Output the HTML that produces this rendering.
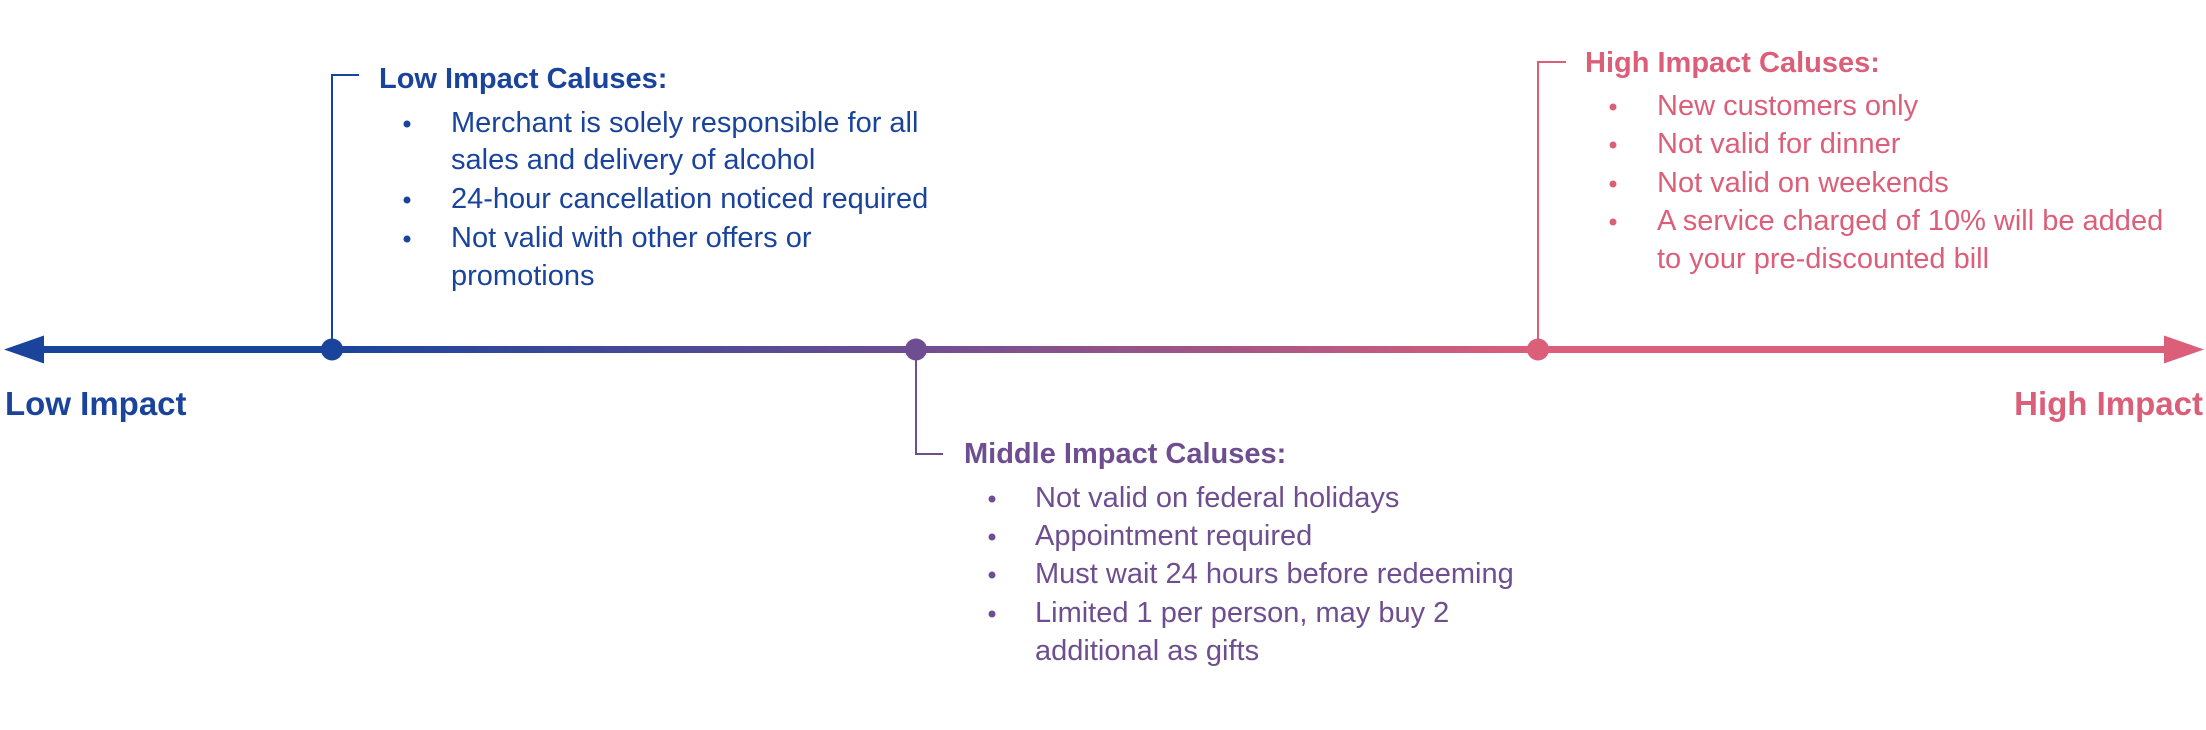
<!DOCTYPE html>
<html><head><meta charset="utf-8"><style>
html,body{margin:0;padding:0;background:#fff;}
svg{display:block;}
text{font-family:"Liberation Sans",sans-serif;}
</style></head><body>
<svg width="2206" height="730" viewBox="0 0 2206 730" xmlns="http://www.w3.org/2000/svg">
<defs>
<linearGradient id="g" x1="0" y1="0" x2="2206" y2="0" gradientUnits="userSpaceOnUse">
<stop offset="0" stop-color="#1a449c"/>
<stop offset="0.15" stop-color="#1a449c"/>
<stop offset="0.415" stop-color="#6e4e90"/>
<stop offset="0.7" stop-color="#dc5f7a"/>
<stop offset="1" stop-color="#dc5f7a"/>
</linearGradient>
</defs>
<rect x="40" y="346" width="2130" height="7" fill="url(#g)"/>
<polygon points="4,349.5 44,335.5 44,363.5" fill="#1a449c"/>
<polygon points="2204,349.5 2164,335.5 2164,363.5" fill="#dc5f7a"/>
<circle cx="332" cy="349.5" r="11" fill="#1a449c"/>
<circle cx="916" cy="349.5" r="11" fill="#6e4e90"/>
<circle cx="1538" cy="349.5" r="11" fill="#dc5f7a"/>
<polyline points="359,75 332,75 332,349" fill="none" stroke="#1a449c" stroke-width="2"/>
<polyline points="916,349 916,454 943,454" fill="none" stroke="#6e4e90" stroke-width="2"/>
<polyline points="1566,62 1538,62 1538,349" fill="none" stroke="#dc5f7a" stroke-width="2"/>
<g fill="#1a449c">
<text x="379" y="88" font-size="29" font-weight="bold">Low Impact Caluses:</text>
<g font-size="29">
<circle cx="407" cy="124" r="3.5"/><circle cx="407" cy="200" r="3.5"/><circle cx="407" cy="239" r="3.5"/>
<text x="451" y="132">Merchant is solely responsible for all</text>
<text x="451" y="169">sales and delivery of alcohol</text>
<text x="451" y="208">24-hour cancellation noticed required</text>
<text x="451" y="247">Not valid with other offers or</text>
<text x="451" y="285">promotions</text>
</g>
<text x="5" y="415" font-size="33" font-weight="bold">Low Impact</text>
</g>
<g fill="#6e4e90">
<text x="964" y="463" font-size="29" font-weight="bold">Middle Impact Caluses:</text>
<g font-size="29">
<circle cx="992" cy="499" r="3.5"/><circle cx="992" cy="537" r="3.5"/><circle cx="992" cy="575" r="3.5"/><circle cx="992" cy="614" r="3.5"/>
<text x="1035" y="507">Not valid on federal holidays</text>
<text x="1035" y="545">Appointment required</text>
<text x="1035" y="583">Must wait 24 hours before redeeming</text>
<text x="1035" y="622">Limited 1 per person, may buy 2</text>
<text x="1035" y="660">additional as gifts</text>
</g>
</g>
<g fill="#dc5f7a">
<text x="1585" y="72" font-size="29" font-weight="bold">High Impact Caluses:</text>
<g font-size="29">
<circle cx="1613" cy="107" r="3.5"/><circle cx="1613" cy="145" r="3.5"/><circle cx="1613" cy="184" r="3.5"/><circle cx="1613" cy="222" r="3.5"/>
<text x="1657" y="115">New customers only</text>
<text x="1657" y="153">Not valid for dinner</text>
<text x="1657" y="192">Not valid on weekends</text>
<text x="1657" y="230">A service charged of 10% will be added</text>
<text x="1657" y="268">to your pre-discounted bill</text>
</g>
<text x="2203" y="415" font-size="33" font-weight="bold" text-anchor="end">High Impact</text>
</g>
</svg>
</body></html>
